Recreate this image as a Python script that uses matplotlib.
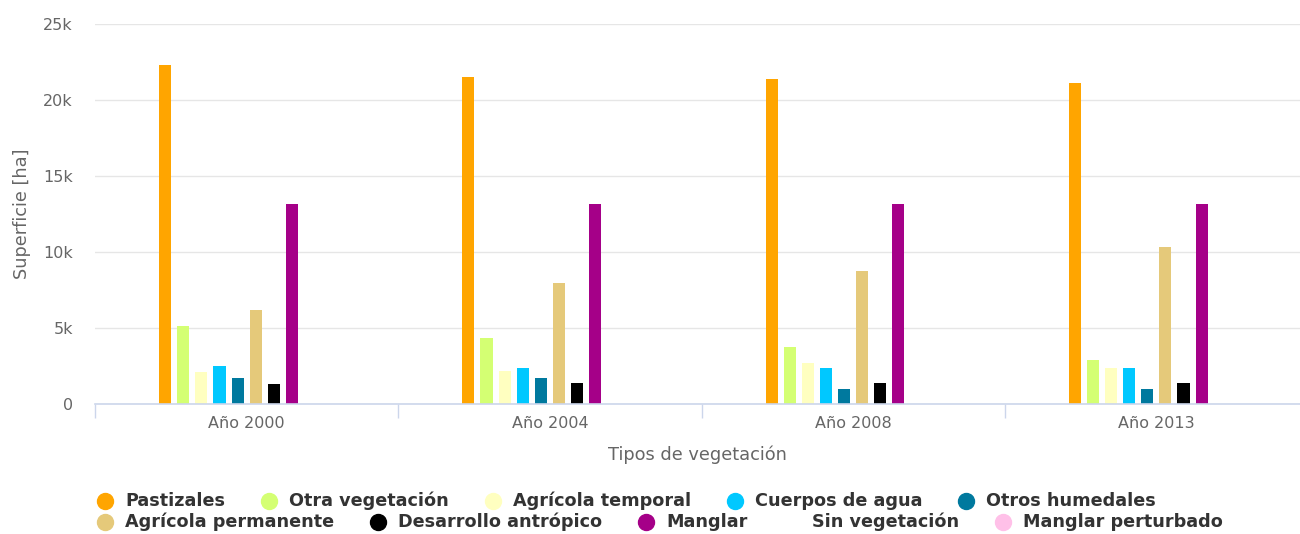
import numpy as np
import matplotlib
matplotlib.use("Agg")
from matplotlib import pyplot as plt
from matplotlib.lines import Line2D

# categories on the x axis
years = ["Año 2000", "Año 2004", "Año 2008", "Año 2013"]

# series, in legend order
series_names = ["Pastizales", "Otra vegetación", "Agrícola temporal", "Cuerpos de agua",
                "Otros humedales", "Agrícola permanente", "Desarrollo antrópico", "Manglar",
                "Sin vegetación", "Manglar perturbado"]

pastizales = [22300, 21500, 21350, 21100]
otra_vegetacion = [5150, 4350, 3750, 2900]
agricola_temporal = [2120, 2170, 2700, 2370]
cuerpos_agua = [2500, 2370, 2370, 2370]
otros_humedales = [1710, 1710, 990, 990]
agricola_permanente = [6180, 7960, 8750, 10350]
desarrollo_antropico = [1320, 1380, 1380, 1380]
manglar = [13160, 13160, 13160, 13160]
sin_vegetacion = [0, 0, 0, 0]
manglar_perturbado = [0, 0, 0, 0]

values = [pastizales, otra_vegetacion, agricola_temporal, cuerpos_agua, otros_humedales,
          agricola_permanente, desarrollo_antropico, manglar, sin_vegetacion, manglar_perturbado]

colors = ["#ffa500", "#d4ff73", "#ffffc0", "#00c8ff", "#00799e",
          "#e5c97a", "#000000", "#a50088", "#ffffff", "#ffc0e8"]

W, H = 1300, 534
fig = plt.figure(figsize=(W / 100, H / 100), dpi=100)
ax = fig.add_axes([95 / W, 1 - 404 / H, 1205 / W, 380 / H])

x = np.arange(len(years))
slot = 0.0597
bar_w = 0.04
n = len(series_names)
for i, (name, vals) in enumerate(zip(series_names, values)):
    offset = (i - (n - 1) / 2) * slot
    ax.bar(x + offset, vals, width=bar_w, color=colors[i], zorder=3, linewidth=0)

# the original plot area runs a little past the right edge of the image
ax.set_xlim(-0.5, 3.5 - 8 / 303)
ax.set_ylim(0, 25000)
ax.set_yticks(np.arange(0, 25001, 5000))
ax.set_yticklabels(["0"] + [f"{v // 1000}k" for v in range(5000, 25001, 5000)])
ax.grid(axis="y", color="#e6e6e6", linewidth=1, zorder=0)
ax.tick_params(axis="y", length=0, pad=16, labelsize=11.5, labelcolor="#666666")

ax.set_xticks(x)
ax.set_xticklabels(years)
ax.set_xticks([-0.5, 0.5, 1.5, 2.5], minor=True)
ax.tick_params(axis="x", which="major", length=0, pad=9, labelsize=11.5, labelcolor="#666666")
ax.tick_params(axis="x", which="minor", length=10, color="#ccd6eb", width=1)

for side in ["left", "right", "top"]:
    ax.spines[side].set_visible(False)
ax.spines["bottom"].set_color("#ccd6eb")
ax.spines["bottom"].set_linewidth(1.2)
ax.spines["bottom"].set_zorder(4)

ax.set_xlabel("Tipos de vegetación", fontsize=12.8, color="#666666", va="center")
ax.xaxis.set_label_coords(0.5, -(455 - 404) / 380)
ax.set_ylabel("Superficie [ha]", fontsize=12.8, color="#666666", va="center")
ax.yaxis.set_label_coords(-(95 - 22) / 1205, 0.5)

# legend laid out in rows like the original
renderer = fig.canvas.get_renderer()
px, row_y = 97, 501
for name, col in zip(series_names, colors):
    t = fig.text(0, 0, name, fontsize=12.7, fontweight="bold", color="#333333",
                 va="center", ha="left")
    tw = t.get_window_extent(renderer).width
    if px + 28 + tw > W - 5:
        px, row_y = 97, row_y + 21
    t.set_position(((px + 28) / W, 1 - row_y / H))
    fig.add_artist(Line2D([(px + 8) / W], [1 - row_y / H], marker="o", markersize=11.5,
                          color=col, linestyle="none", transform=fig.transFigure))
    px = px + 28 + tw + 36

fig.savefig("out.png", dpi=100)
